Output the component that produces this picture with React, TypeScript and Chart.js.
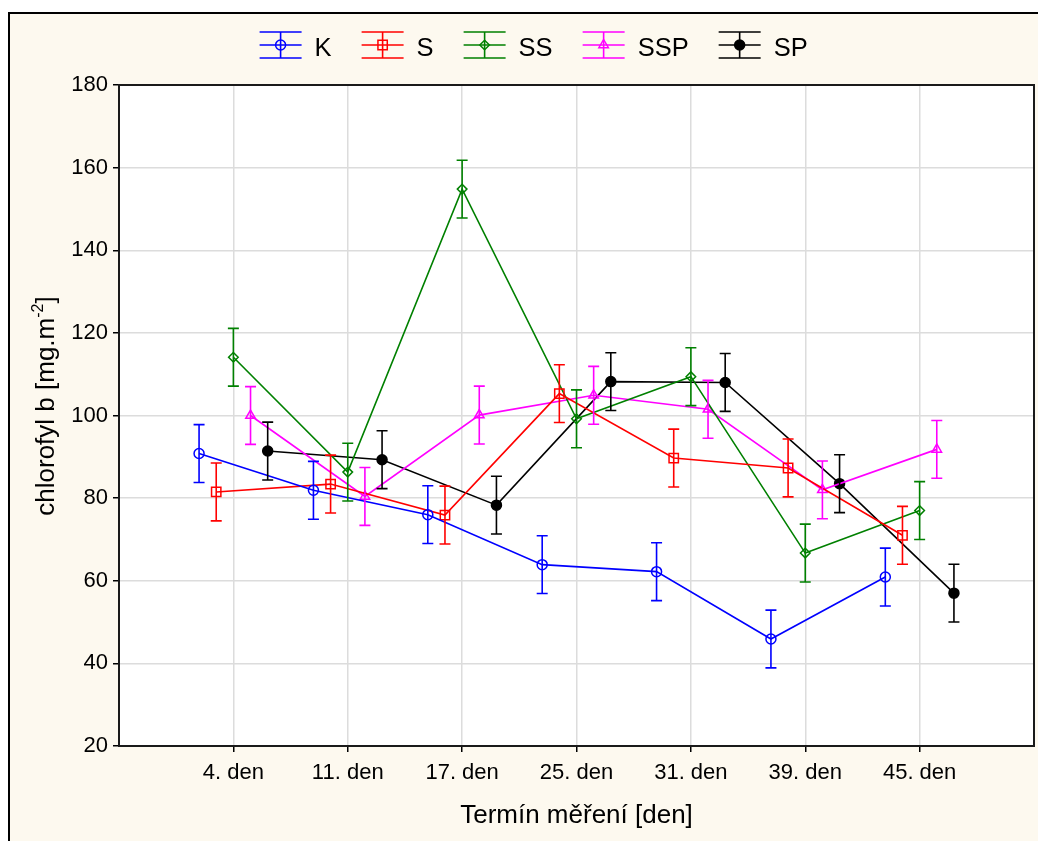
import React, { useEffect, useRef } from "react";
import { Chart, registerables } from "chart.js";

Chart.register(...registerables);

const categories = ["4. den", "11. den", "17. den", "25. den", "31. den", "39. den", "45. den"];
const seriesNames = ["K", "S", "SS", "SSP", "SP"];
const kValues = [90.8, 81.9, 76.0, 63.9, 62.2, 45.9, 60.9];
const sValues = [81.5, 83.4, 75.9, 105.3, 89.7, 87.3, 71.0];
const ssValues = [114.1, 86.3, 154.8, 99.2, 109.4, 66.7, 77.0];
const sspValues = [100.0, 80.4, 100.1, 104.9, 101.5, 82.0, 91.8];
const spValues = [91.4, 89.3, 78.3, 108.2, 108.0, 83.5, 57.0];
const kErrors = [7.0, 7.0, 7.0, 7.0, 7.0, 7.0, 7.0];
const sErrors = [7.0, 7.0, 7.0, 7.0, 7.0, 7.0, 7.0];
const ssErrors = [7.0, 7.0, 7.0, 7.0, 7.0, 7.0, 7.0];
const sspErrors = [7.0, 7.0, 7.0, 7.0, 7.0, 7.0, 7.0];
const spErrors = [7.0, 7.0, 7.0, 7.0, 7.0, 7.0, 7.0];
const yTicks = [20, 40, 60, 80, 100, 120, 140, 160, 180];
const xTitle = "Termín měření [den]";
const yTitleMain = "chlorofyl b [mg.m";
const yTitleSup = "-2";
const yTitleEnd = "]";

const FONT = '"Liberation Sans", Arial, sans-serif';
const colors = ["#0000ff", "#ff0000", "#008000", "#ff00ff", "#000000"];
const markerStyles = ["circle", "rect", "rectRot", "triangle", "circle"];
const markerRadius = [5, 6.6, 4.8, 5.5, 5];
const markerFilled = [false, false, false, false, true];
const dodge = [-0.3, -0.15, 0, 0.15, 0.3];
const allValues = [kValues, sValues, ssValues, sspValues, spValues];
const allErrors = [kErrors, sErrors, ssErrors, sspErrors, spErrors];

const CW = 1030;
const CH = 833;

function drawMarker(ctx: CanvasRenderingContext2D, style: string, x: number, y: number, r: number, color: string, filled: boolean) {
  ctx.save();
  ctx.beginPath();
  if (style === "circle") {
    ctx.arc(x, y, r, 0, Math.PI * 2);
  } else if (style === "rect") {
    const s = r * Math.SQRT1_2;
    ctx.rect(x - s, y - s, 2 * s, 2 * s);
  } else if (style === "rectRot") {
    ctx.moveTo(x - r, y);
    ctx.lineTo(x, y - r);
    ctx.lineTo(x + r, y);
    ctx.lineTo(x, y + r);
    ctx.closePath();
  } else if (style === "triangle") {
    ctx.moveTo(x, y - r);
    ctx.lineTo(x + 0.866 * r, y + 0.5 * r);
    ctx.lineTo(x - 0.866 * r, y + 0.5 * r);
    ctx.closePath();
  }
  ctx.strokeStyle = color;
  ctx.fillStyle = color;
  ctx.lineWidth = 1.5;
  if (filled) ctx.fill();
  ctx.stroke();
  ctx.restore();
}

const decorPlugin = {
  id: "decor",
  beforeDraw(chart: any) {
    const { ctx, chartArea } = chart;
    const width = ctx.canvas.width;
    const height = ctx.canvas.height;
    ctx.save();
    ctx.fillStyle = "#fdf9ef";
    ctx.fillRect(0, 4, width, height - 4);
    ctx.fillStyle = "#ffffff";
    ctx.fillRect(chartArea.left, chartArea.top, chartArea.right - chartArea.left, chartArea.bottom - chartArea.top);
    ctx.strokeStyle = "#000";
    ctx.lineWidth = 2;
    ctx.beginPath();
    ctx.moveTo(1, height);
    ctx.lineTo(1, 5);
    ctx.lineTo(width, 5);
    ctx.stroke();
    ctx.restore();
  },
  afterDatasetsDraw(chart: any) {
    const { ctx } = chart;
    const xs = chart.scales.x;
    const ys = chart.scales.y;
    ctx.save();
    ctx.lineWidth = 1.6;
    allValues.forEach((vals, si) => {
      ctx.strokeStyle = colors[si];
      vals.forEach((v, i) => {
        const e = allErrors[si][i];
        const px = xs.getPixelForValue(i + 1 + dodge[si]);
        const top = ys.getPixelForValue(v + e);
        const bot = ys.getPixelForValue(v - e);
        ctx.beginPath();
        ctx.moveTo(px, top);
        ctx.lineTo(px, bot);
        ctx.moveTo(px - 5.5, top);
        ctx.lineTo(px + 5.5, top);
        ctx.moveTo(px - 5.5, bot);
        ctx.lineTo(px + 5.5, bot);
        ctx.stroke();
      });
    });
    ctx.restore();
  },
  afterDraw(chart: any) {
    const { ctx, chartArea } = chart;
    ctx.save();
    ctx.strokeStyle = "#1a1a1a";
    ctx.lineWidth = 2;
    ctx.strokeRect(chartArea.left, chartArea.top, chartArea.right - chartArea.left, chartArea.bottom - chartArea.top);

    ctx.fillStyle = "#000";
    ctx.textBaseline = "alphabetic";
    const mainFont = `26px ${FONT}`;
    const supFont = `16px ${FONT}`;
    ctx.font = mainFont;
    const w1 = ctx.measureText(yTitleMain).width;
    const w3 = ctx.measureText(yTitleEnd).width;
    ctx.font = supFont;
    const w2 = ctx.measureText(yTitleSup).width;
    const total = w1 + w2 + w3;
    const cx = 46;
    const cy = 398;
    ctx.translate(cx, cy);
    ctx.rotate(-Math.PI / 2);
    const x0 = -total / 2;
    ctx.font = mainFont;
    ctx.fillText(yTitleMain, x0, 0);
    ctx.font = supFont;
    ctx.fillText(yTitleSup, x0 + w1, -11);
    ctx.font = mainFont;
    ctx.fillText(yTitleEnd, x0 + w1 + w2, 0);
    ctx.setTransform(1, 0, 0, 1, 0, 0);

    const legendFont = `25.5px ${FONT}`;
    ctx.font = legendFont;
    let lx = 251.6;
    const ly = 37;
    seriesNames.forEach((name, si) => {
      const c = colors[si];
      const gx = lx + 21;
      ctx.strokeStyle = c;
      ctx.lineWidth = 1.6;
      ctx.beginPath();
      ctx.moveTo(lx, ly);
      ctx.lineTo(lx + 42, ly);
      ctx.moveTo(lx, ly - 13);
      ctx.lineTo(lx + 42, ly - 13);
      ctx.moveTo(lx, ly + 13);
      ctx.lineTo(lx + 42, ly + 13);
      ctx.moveTo(gx, ly - 13);
      ctx.lineTo(gx, ly + 13);
      ctx.stroke();
      drawMarker(ctx, markerStyles[si], gx, ly, markerRadius[si], c, markerFilled[si]);
      ctx.fillStyle = "#000";
      ctx.font = legendFont;
      ctx.textBaseline = "alphabetic";
      const tx = lx + 42 + 13;
      ctx.fillText(name, tx, 48);
      lx = tx + ctx.measureText(name).width + 30;
    });
    ctx.restore();
  },
};

export default function App() {
  const canvasRef = useRef<HTMLCanvasElement | null>(null);

  useEffect(() => {
    document.documentElement.style.overflow = "hidden";
    document.body.style.overflow = "hidden";
    const canvas = canvasRef.current;
    if (!canvas) return;
    const datasets = seriesNames.map((name, si) => ({
      label: name,
      data: allValues[si].map((v, i) => ({ x: i + 1 + dodge[si], y: v })),
      borderColor: colors[si],
      backgroundColor: colors[si],
      borderWidth: 1.6,
      pointStyle: markerStyles[si] as any,
      pointRadius: markerRadius[si],
      pointBorderWidth: 1.5,
      pointBorderColor: colors[si],
      pointBackgroundColor: markerFilled[si] ? colors[si] : "rgba(0,0,0,0)",
      showLine: true,
      tension: 0,
      fill: false,
    }));
    const tickFont = { family: FONT, size: 22 };
    const chart = new Chart(canvas, {
      type: "line",
      data: { datasets },
      options: {
        responsive: false,
        maintainAspectRatio: false,
        animation: false,
        devicePixelRatio: 1,
        layout: { autoPadding: false, padding: { top: 77, right: 4, left: 0, bottom: 0 } },
        plugins: { legend: { display: false }, tooltip: { enabled: false } },
        scales: {
          x: {
            type: "linear",
            min: 0,
            max: 8,
            afterBuildTicks: (s: any) => {
              s.ticks = categories.map((_, i) => ({ value: i + 1 }));
            },
            afterFit: (s: any) => {
              s.height = 95;
            },
            ticks: {
              callback: (v: any) => categories[Math.round(Number(v)) - 1] ?? "",
              font: tickFont,
              color: "#000",
              padding: 8,
              maxRotation: 0,
              autoSkip: false,
            },
            grid: { color: "#dcdcdc", lineWidth: 1.5, tickColor: "#000", tickLength: 6, tickWidth: 1.5 },
            border: { display: false },
            title: {
              display: true,
              text: xTitle,
              color: "#000",
              font: { family: FONT, size: 26 },
              padding: { top: 0, bottom: 10 },
            },
          },
          y: {
            type: "linear",
            min: 20,
            max: 180,
            afterBuildTicks: (s: any) => {
              s.ticks = yTicks.map((v) => ({ value: v }));
            },
            afterFit: (s: any) => {
              s.width = 111;
            },
            ticks: { font: tickFont, color: "#000", padding: 5 },
            grid: {
              color: (c: any) => (c.tick && (c.tick.value === 20 || c.tick.value === 180) ? "rgba(0,0,0,0)" : "#dcdcdc"),
              lineWidth: 1.5,
              tickColor: "#000",
              tickLength: 6,
              tickWidth: 1.5,
            },
            border: { display: false },
            title: { display: false },
          },
        },
      },
      plugins: [decorPlugin],
    } as any);
    return () => chart.destroy();
  }, []);

  return (
    <div style={{ position: "absolute", left: 8, top: 8, width: CW, height: CH, overflow: "hidden" }}>
      <canvas ref={canvasRef} width={CW} height={CH} style={{ display: "block", width: CW, height: CH }} />
    </div>
  );
}
